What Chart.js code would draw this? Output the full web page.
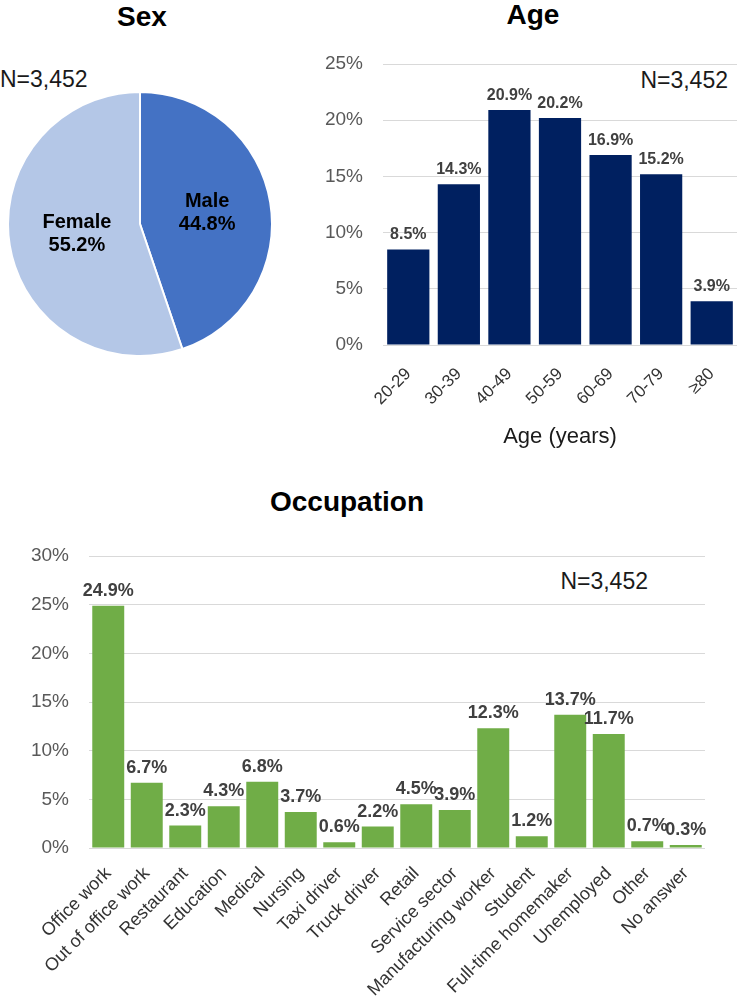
<!DOCTYPE html>
<html lang="en">
<head>
<meta charset="UTF-8">
<title>Sex, Age, Occupation</title>
<script src="https://cdn.jsdelivr.net/npm/chart.js"></script>
<style>
  body { margin: 0; background: #fff; font-family: "Liberation Sans", Arial, sans-serif; }
  #page { position: relative; width: 738px; height: 1002px; overflow: hidden; }
  .box { position: absolute; }
  .title { position: absolute; font-weight: bold; font-size: 28px; line-height: 1; color: #000; transform: translateX(-50%); white-space: nowrap; }
  .n { position: absolute; font-size: 23px; line-height: 1; color: #1a1a1a; white-space: nowrap; }
</style>
</head>
<body>
<div id="page">
  <div class="title" style="left:142px; top:3px;">Sex</div>
  <div class="title" style="left:533px; top:1px;">Age</div>
  <div class="title" style="left:347px; top:488px;">Occupation</div>

  <div class="n" style="left:0px; top:68px;">N=3,452</div>
  <div class="n" style="right:10px; top:69px;">N=3,452</div>
  <div class="n" style="right:90px; top:570px;">N=3,452</div>

  <div class="box" style="left:7px; top:91px; width:266px; height:266px;"><canvas id="sexChart"></canvas></div>
  <div class="box" style="left:300px; top:40px; width:438px; height:420px;"><canvas id="ageChart"></canvas></div>
  <div class="box" style="left:0px; top:530px; width:738px; height:472px;"><canvas id="occChart"></canvas></div>
</div>

<script>
  // data
  const sexLabels = ["Male", "Female"];
  const sexValues = [44.8, 55.2];

  const ageLabels = ["20-29", "30-39", "40-49", "50-59", "60-69", "70-79", "≥80"];
  const ageValues = [8.5, 14.3, 20.9, 20.2, 16.9, 15.2, 3.9];

  const occLabels = ["Office work", "Out of office work", "Restaurant", "Education", "Medical", "Nursing",
    "Taxi driver", "Truck driver", "Retail", "Service sector", "Manufacturing worker", "Student",
    "Full-time homemaker", "Unemployed", "Other", "No answer"];
  const occValues = [24.9, 6.7, 2.3, 4.3, 6.8, 3.7, 0.6, 2.2, 4.5, 3.9, 12.3, 1.2, 13.7, 11.7, 0.7, 0.3];

  const FONT = '"Liberation Sans", Arial, sans-serif';
  Chart.defaults.font.family = FONT;
  Chart.defaults.animation = false;

  // value labels above bars
  function barLabels(size) {
    return {
      id: "barLabels",
      afterDatasetsDraw(chart) {
        const ctx = chart.ctx;
        const meta = chart.getDatasetMeta(0);
        const data = chart.data.datasets[0].data;
        ctx.save();
        ctx.font = "bold " + size + "px " + FONT;
        ctx.fillStyle = "#404040";
        ctx.textAlign = "center";
        ctx.textBaseline = "alphabetic";
        meta.data.forEach((bar, i) => {
          ctx.fillText(data[i].toFixed(1) + "%", bar.x, bar.y - 10);
        });
        ctx.restore();
      }
    };
  }

  // name + percent inside pie slices
  const pieLabels = {
    id: "pieLabels",
    afterDatasetsDraw(chart) {
      const ctx = chart.ctx;
      const meta = chart.getDatasetMeta(0);
      const data = chart.data.datasets[0].data;
      ctx.save();
      ctx.font = "bold 20px " + FONT;
      ctx.fillStyle = "#000";
      ctx.textAlign = "center";
      ctx.textBaseline = "middle";
      meta.data.forEach((arc, i) => {
        const p = arc.tooltipPosition();
        ctx.fillText(chart.data.labels[i], p.x + 2, p.y - 12);
        ctx.fillText(data[i].toFixed(1) + "%", p.x + 2, p.y + 11);
      });
      ctx.restore();
    }
  };

  new Chart(document.getElementById("sexChart"), {
    type: "pie",
    data: {
      labels: sexLabels,
      datasets: [{
        data: sexValues,
        backgroundColor: ["#4472C4", "#B4C7E7"],
        borderColor: "#fff",
        borderWidth: 2
      }]
    },
    options: {
      responsive: true,
      maintainAspectRatio: false,
      layout: { padding: 0 },
      plugins: { legend: { display: false }, tooltip: { enabled: false } }
    },
    plugins: [pieLabels]
  });

  // tick padding is done with invisible tick marks so it does not add to layout padding
  function barOptions(cfg) {
    return {
      responsive: true,
      maintainAspectRatio: false,
      layout: { padding: { top: cfg.top, right: cfg.right, left: 0, bottom: 0 } },
      plugins: { legend: { display: false }, tooltip: { enabled: false } },
      scales: {
        x: {
          grid: { display: true, drawOnChartArea: false, drawTicks: true, tickLength: cfg.xPad, tickColor: "rgba(0,0,0,0)" },
          border: { display: false },
          ticks: {
            color: "#333",
            font: { size: cfg.xFont },
            maxRotation: 45,
            minRotation: 45,
            autoSkip: false,
            padding: 0
          },
          title: cfg.xTitle ? {
            display: true,
            text: cfg.xTitle,
            color: "#1a1a1a",
            font: { size: 22 },
            padding: { top: 0, bottom: 10 }
          } : { display: false },
          afterFit(scale) { scale.height = cfg.xHeight; }
        },
        y: {
          min: 0,
          max: cfg.max,
          grid: { color: "#D9D9D9", lineWidth: 1, drawTicks: true, tickLength: 20, tickColor: "rgba(0,0,0,0)" },
          border: { display: false },
          ticks: {
            stepSize: 5,
            color: "#595959",
            font: { size: 19 },
            padding: 0,
            callback: v => v + "%"
          },
          afterFit(scale) { scale.width = cfg.yWidth; }
        }
      }
    };
  }

  new Chart(document.getElementById("ageChart"), {
    type: "bar",
    data: {
      labels: ageLabels,
      datasets: [{
        data: ageValues,
        backgroundColor: "#002060",
        categoryPercentage: 1,
        barPercentage: 0.835
      }]
    },
    options: barOptions({ top: 24, right: 1, xHeight: 115, yWidth: 83, max: 25, xFont: 17, xPad: 19, xTitle: "Age (years)" }),
    plugins: [barLabels(16)]
  });

  new Chart(document.getElementById("occChart"), {
    type: "bar",
    data: {
      labels: occLabels,
      datasets: [{
        data: occValues,
        backgroundColor: "#70AD47",
        categoryPercentage: 1,
        barPercentage: 0.83
      }]
    },
    options: barOptions({ top: 26, right: 33, xHeight: 154, yWidth: 89, max: 30, xFont: 18, xPad: 15 }),
    plugins: [barLabels(18)]
  });
</script>
</body>
</html>
